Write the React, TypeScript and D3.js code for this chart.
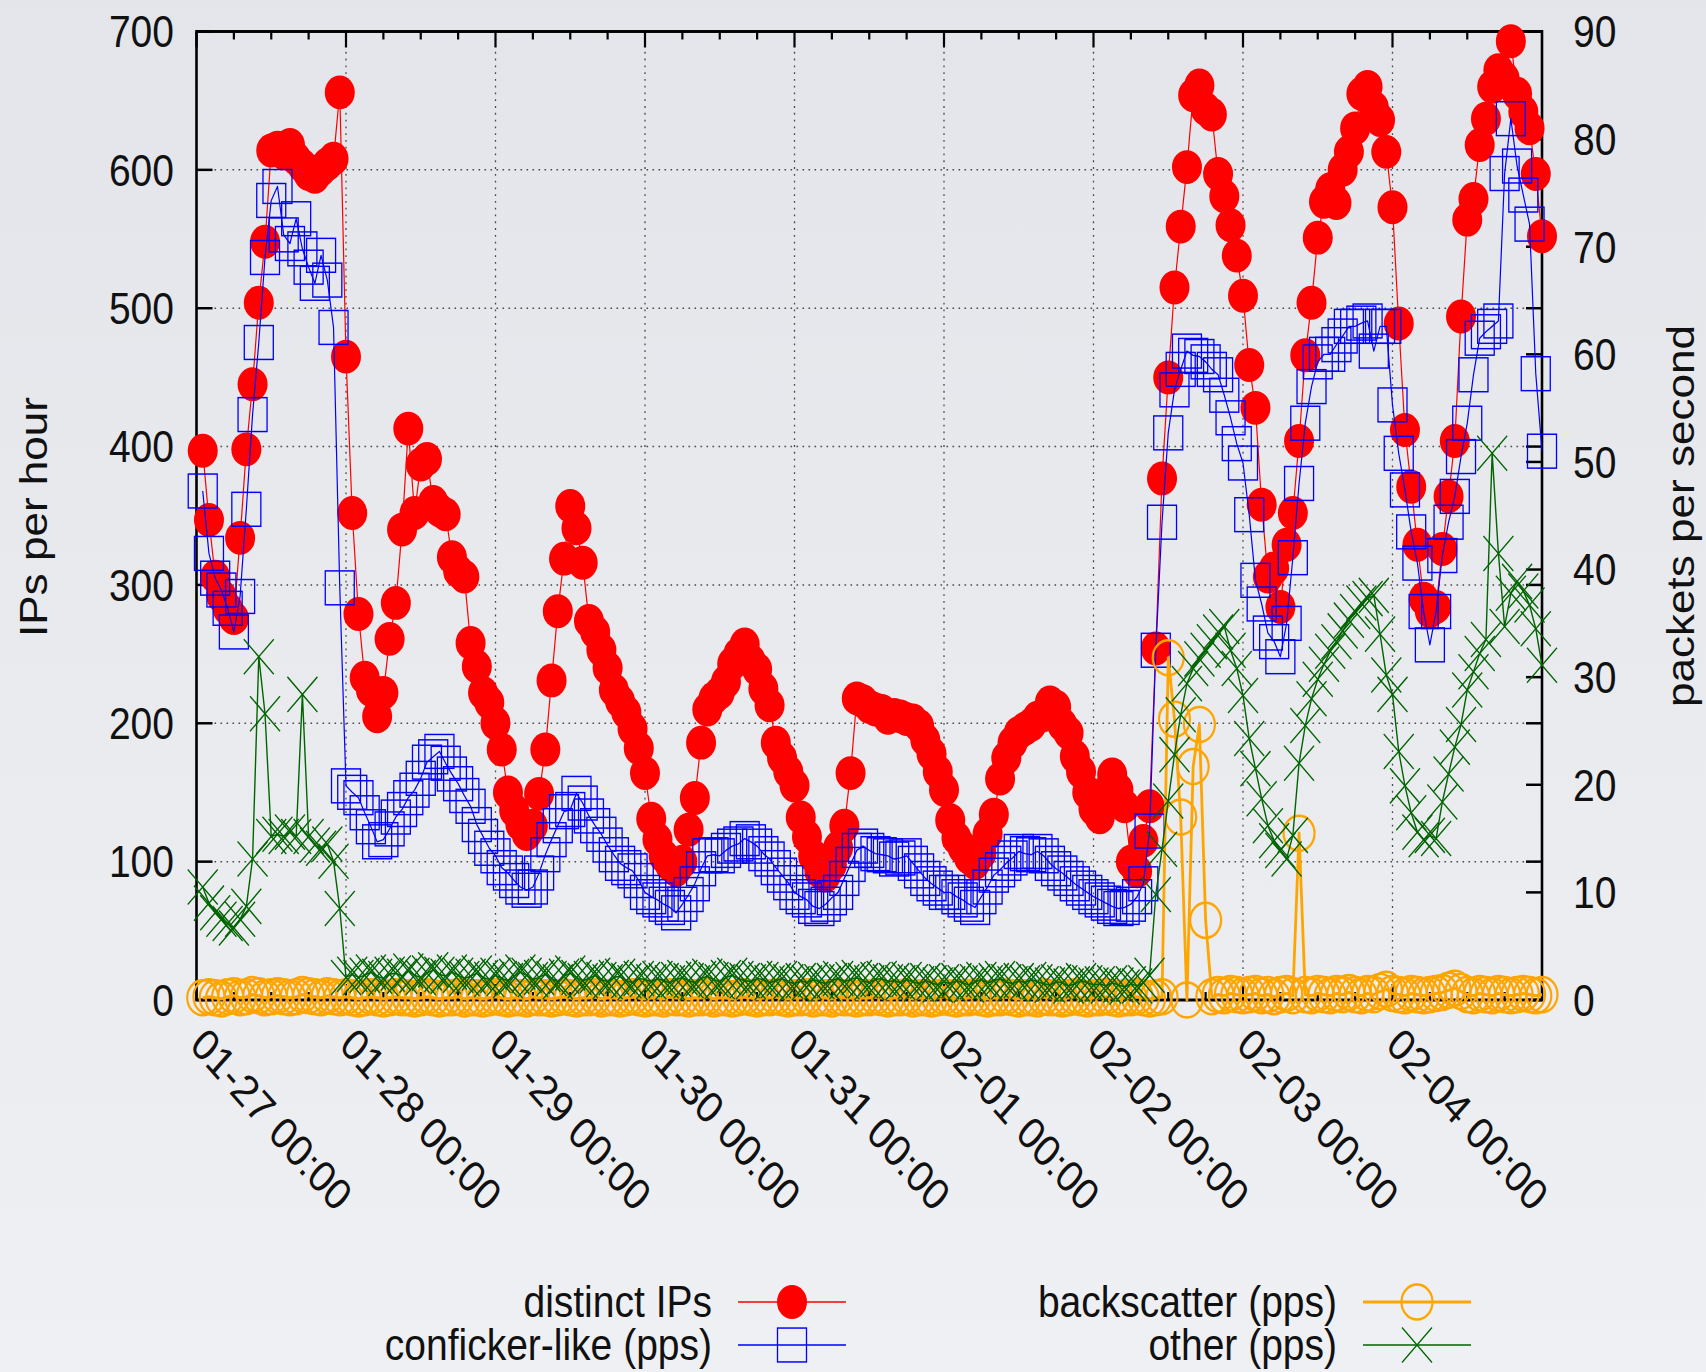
import React, { useEffect, useRef } from 'react';
import * as d3 from 'd3';

// hourly samples, 01-27 01:00 .. 02-05 00:00
const distinctIPs = [
  397, 347, 306, 292, 283, 276, 334, 398, 445, 504, 548, 614,
  616, 612, 618, 608, 603, 597, 595, 600, 604, 608, 656, 465,
  352, 279, 233, 224, 205, 222, 261, 287, 340, 413, 352, 387,
  391, 360, 354, 351, 320, 310, 306, 258, 241, 222, 215, 200,
  181, 150, 137, 127, 120, 126, 149, 181, 231, 281, 319, 357,
  341, 316, 274, 266, 253, 240, 224, 216, 208, 196, 182, 164,
  131, 116, 104, 98, 94, 100, 123, 146, 186, 210, 218, 222,
  230, 243, 250, 257, 245, 239, 225, 213, 186, 175, 165, 155,
  132, 118, 104, 93, 90, 98, 110, 126, 164, 218, 216, 212,
  210, 209, 204, 206, 205, 203, 202, 198, 188, 178, 165, 152,
  130, 117, 110, 103, 99, 106, 120, 134, 160, 175, 186, 193,
  196, 199, 204, 206, 215, 212, 199, 193, 176, 165, 150, 138,
  132, 150, 163, 152, 140, 100, 93, 115, 140, 254, 377, 450,
  515, 559, 602, 654, 661, 644, 640, 597, 581, 560, 538, 509,
  459, 428, 358, 306, 312, 284, 329, 352, 404, 466, 504, 551,
  577, 586, 576, 600, 613, 630, 655, 660, 645, 636, 613, 573,
  489, 412, 371, 329, 290, 281, 284, 326, 364, 404, 494, 564,
  579, 618, 637, 660, 672, 666, 693, 655, 642, 630, 597, 552,
];

const confickerPps = [
  47.3, 41.5, 39.2, 38.1, 36.4, 34.2, 37.5, 45.6, 54.4, 61.1, 69.0, 74.3,
  75.6, 71.1, 70.3, 72.6, 69.8, 68.1, 66.6, 69.2, 66.9, 62.5, 38.3, 19.9,
  19.3, 18.8, 17.4, 16.1, 14.7, 14.9, 15.9, 17.0, 17.7, 18.8, 19.5, 20.6,
  22.1, 22.6, 23.1, 22.0, 21.0, 20.1, 19.0, 18.0, 16.3, 15.2, 14.1, 13.4,
  12.3, 11.8, 11.1, 10.5, 10.2, 10.5, 11.8, 13.5, 14.9, 16.2, 17.5, 17.7,
  19.2, 18.3, 17.1, 16.2, 15.4, 14.4, 13.5, 12.7, 12.3, 12.0, 11.1, 10.0,
  9.6, 9.3, 8.9, 8.6, 8.1, 8.9, 9.8, 10.8, 12.2, 13.4, 13.5, 13.4,
  13.9, 14.3, 14.5, 15.0, 14.7, 14.3, 13.6, 13.1, 12.3, 11.6, 10.9, 10.0,
  9.6, 9.3, 8.7, 8.5, 8.9, 9.5, 10.0, 11.3, 12.6, 13.9, 14.3, 13.9,
  13.6, 13.5, 13.4, 13.1, 13.2, 13.4, 12.7, 12.0, 11.3, 10.8, 10.4, 10.0,
  10.0, 9.6, 9.3, 8.9, 8.6, 9.6, 10.5, 11.6, 12.1, 12.7, 13.2, 13.8,
  13.6, 13.5, 13.8, 13.4, 12.7, 12.2, 11.8, 11.3, 10.8, 10.4, 10.0, 9.6,
  9.3, 9.0, 8.7, 8.5, 8.6, 8.9, 9.6, 10.8, 15.7, 32.5, 44.4, 52.7,
  56.7, 58.6, 60.3, 59.9, 59.8, 59.3, 58.6, 58.1, 56.2, 54.1, 51.7, 49.9,
  45.1, 39.0, 36.8, 34.1, 33.3, 31.9, 35.0, 41.1, 48.0, 53.6, 57.0, 59.3,
  60.0, 60.0, 60.9, 61.7, 62.6, 62.6, 62.9, 63.1, 60.3, 62.6, 62.6, 55.3,
  50.8, 47.4, 43.5, 40.6, 36.1, 33.0, 36.1, 41.3, 44.4, 46.8, 50.5, 53.6,
  58.1, 61.5, 62.1, 62.6, 63.1, 76.8, 81.9, 77.5, 74.8, 72.1, 58.2, 51.0,
];

const backscatterPps = [
  0.2, 0.3, 0.2, 0.1, 0.3, 0.4, 0.2, 0.3, 0.5, 0.4, 0.2, 0.3,
  0.4, 0.3, 0.2, 0.3, 0.5, 0.4, 0.3, 0.2, 0.4, 0.3, 0.2, 0.3,
  0.2, 0.1, 0.2, 0.3, 0.2, 0.1, 0.2, 0.3, 0.2, 0.2, 0.1, 0.2,
  0.3, 0.2, 0.1, 0.2, 0.2, 0.3, 0.1, 0.2, 0.2, 0.1, 0.2, 0.3,
  0.2, 0.1, 0.2, 0.2, 0.1, 0.3, 0.2, 0.2, 0.1, 0.2, 0.3, 0.2,
  0.1, 0.2, 0.2, 0.3, 0.1, 0.2, 0.2, 0.1, 0.2, 0.3, 0.2, 0.1,
  0.2, 0.2, 0.1, 0.3, 0.2, 0.2, 0.1, 0.2, 0.2, 0.3, 0.1, 0.2,
  0.2, 0.1, 0.2, 0.3, 0.2, 0.1, 0.2, 0.2, 0.3, 0.2, 0.1, 0.2,
  0.2, 0.3, 0.1, 0.2, 0.2, 0.1, 0.3, 0.2, 0.2, 0.1, 0.2, 0.2,
  0.3, 0.2, 0.1, 0.2, 0.2, 0.3, 0.1, 0.2, 0.2, 0.1, 0.2, 0.3,
  0.2, 0.1, 0.2, 0.2, 0.3, 0.2, 0.1, 0.2, 0.2, 0.3, 0.2, 0.1,
  0.2, 0.2, 0.1, 0.3, 0.2, 0.2, 0.1, 0.2, 0.3, 0.2, 0.1, 0.2,
  0.2, 0.3, 0.2, 0.1, 0.2, 0.2, 0.3, 0.2, 0.1, 0.2, 0.3, 31.8,
  26.1, 17.0, 0.0, 21.7, 25.6, 7.4, 0.3, 0.5, 0.4, 0.6, 0.5, 0.4,
  0.5, 0.6, 0.4, 0.5, 0.3, 0.5, 0.6, 0.4, 15.5, 0.5, 0.4, 0.6,
  0.5, 0.4, 0.6, 0.5, 0.7, 0.5, 0.4, 0.6, 0.5, 0.8, 1.0, 0.6,
  0.5, 0.4, 0.6, 0.5, 0.4, 0.5, 0.6, 0.7, 0.9, 1.1, 0.8, 0.5,
  0.4, 0.6, 0.5, 0.4, 0.6, 0.5, 0.4, 0.5, 0.6, 0.5, 0.4, 0.5,
];

const otherPps = [
  10.5, 9.0, 8.1, 7.5, 7.1, 6.7, 7.5, 8.7, 13.1, 31.9, 26.6, 15.2,
  15.4, 15.2, 15.6, 15.2, 28.4, 15.2, 14.4, 14.1, 14.5, 12.9, 8.5, 2.1,
  2.4, 2.1, 2.3, 2.6, 2.2, 2.0, 2.4, 2.5, 2.2, 2.7, 2.3, 2.1,
  2.5, 2.8, 2.4, 2.2, 2.6, 2.3, 2.0, 2.2, 2.5, 2.1, 1.9, 2.3,
  2.0, 1.8, 2.2, 2.6, 2.3, 1.9, 2.1, 2.4, 2.0, 1.7, 2.2, 2.5,
  2.1, 1.8, 2.0, 2.3, 1.9, 1.7, 2.1, 2.2, 1.8, 1.6, 2.0, 1.9,
  1.7, 2.0, 1.8, 1.6, 1.9, 2.1, 1.8, 1.6, 2.0, 2.2, 1.9, 1.7,
  2.1, 2.3, 2.0, 1.8, 1.7, 2.0, 1.9, 1.6, 1.8, 2.0, 1.7, 1.5,
  1.8, 1.6, 1.9, 1.7, 1.5, 1.8, 2.0, 1.7, 1.9, 2.1, 1.8, 1.6,
  1.9, 2.0, 1.7, 1.8, 1.6, 1.9, 1.7, 1.5, 1.8, 1.6, 1.4, 1.7,
  1.5, 1.8, 1.6, 1.4, 1.7, 1.9, 1.6, 1.8, 2.0, 1.7, 1.5, 1.8,
  1.6, 1.9, 1.7, 1.5, 1.4, 1.7, 1.6, 1.3, 1.5, 1.8, 1.6, 1.4,
  1.5, 1.3, 1.6, 1.4, 1.2, 1.5, 1.3, 1.6, 2.3, 9.8, 14.0, 18.5,
  22.8, 26.5, 29.4, 30.8, 31.7, 32.5, 33.3, 34.2, 34.7, 32.5, 30.8, 28.3,
  24.3, 21.5, 18.7, 16.2, 14.8, 13.9, 13.1, 15.3, 22.0, 25.5, 28.0, 29.8,
  31.2, 32.4, 33.3, 34.3, 35.3, 36.1, 36.9, 37.3, 37.6, 34.0, 30.2, 28.4,
  23.1, 19.9, 17.4, 15.6, 14.9, 15.3, 15.0, 18.4, 21.0, 23.5, 25.6, 28.8,
  30.5, 32.2, 33.5, 50.8, 41.5, 34.7, 37.8, 38.9, 38.0, 36.7, 34.5, 31.1,
];

const seriesNames = ['distinct IPs', 'conficker-like (pps)', 'backscatter (pps)', 'other (pps)'];
const leftTicks = [0, 100, 200, 300, 400, 500, 600, 700];
const rightTicks = [0, 10, 20, 30, 40, 50, 60, 70, 80, 90];
const startTime = new Date(Date.UTC(2009, 0, 27, 0));
const endTime = new Date(Date.UTC(2009, 1, 5, 0));

const W = 1706;
const H = 1372;
const K = 1.13; // the original picture is stretched vertically
const VH = H / K;
const FONT = '"Liberation Sans", Arial, Helvetica, sans-serif';

const App = () => {
  const ref = useRef<SVGSVGElement>(null);

  useEffect(() => {
    const svg = d3.select(ref.current);
    svg.selectAll('*').remove();

    const m = { left: 196.5, right: 1542, top: 31.5 / K, bottom: 1000 / K };

    // background
    const grad = svg.append('defs').append('linearGradient')
      .attr('id', 'bg').attr('x1', 0).attr('y1', 0).attr('x2', 0).attr('y2', 1);
    grad.append('stop').attr('offset', '0%').attr('stop-color', '#e3e5ea');
    grad.append('stop').attr('offset', '100%').attr('stop-color', '#eff0f3');
    svg.append('rect').attr('width', W).attr('height', VH).attr('fill', 'url(#bg)');

    const times = distinctIPs.map((_, i) => d3.utcHour.offset(startTime, i + 1));
    const x = d3.scaleUtc().domain([startTime, endTime]).range([m.left, m.right]);
    const yL = d3.scaleLinear().domain([0, 700]).range([m.bottom, m.top]);
    const yR = d3.scaleLinear().domain([0, 90]).range([m.bottom, m.top]);

    const days = d3.utcDay.range(startTime, endTime);
    const minor = d3.utcHour.every(6)!.range(startTime, endTime).filter(d => d.getUTCHours() !== 0);
    const fmt = d3.utcFormat('%m-%d %H:%M');

    // grid
    const grid = svg.append('g')
      .attr('stroke', '#4a4a4a').attr('stroke-width', 1.3).attr('stroke-dasharray', '1.6,4.4');
    grid.selectAll('line.h')
      .data(leftTicks.filter(v => v > 0 && v < 700))
      .enter().append('line').attr('class', 'h')
      .attr('x1', m.left).attr('x2', m.right)
      .attr('y1', d => yL(d)).attr('y2', d => yL(d));
    grid.selectAll('line.v')
      .data(days.slice(1))
      .enter().append('line').attr('class', 'v')
      .attr('x1', d => x(d)).attr('x2', d => x(d))
      .attr('y1', m.top).attr('y2', m.bottom);

    // ticks (inward, gnuplot style)
    const ticks = svg.append('g').attr('stroke', '#000').attr('stroke-width', 2.2);
    const major = 16;
    leftTicks.forEach(v => {
      ticks.append('line').attr('x1', m.left).attr('x2', m.left + major).attr('y1', yL(v)).attr('y2', yL(v));
      ticks.append('line').attr('x1', m.right).attr('x2', m.right - major).attr('y1', yL(v)).attr('y2', yL(v));
    });
    rightTicks.forEach(v => {
      ticks.append('line').attr('x1', m.right).attr('x2', m.right - major).attr('y1', yR(v)).attr('y2', yR(v));
    });
    days.forEach(d => {
      ticks.append('line').attr('x1', x(d)).attr('x2', x(d)).attr('y1', m.bottom).attr('y2', m.bottom - major / K);
      ticks.append('line').attr('x1', x(d)).attr('x2', x(d)).attr('y1', m.top).attr('y2', m.top + major / K);
    });
    minor.forEach(d => {
      ticks.append('line').attr('x1', x(d)).attr('x2', x(d)).attr('y1', m.bottom).attr('y2', m.bottom - 8 / K);
      ticks.append('line').attr('x1', x(d)).attr('x2', x(d)).attr('y1', m.top).attr('y2', m.top + 8 / K);
    });

    // border
    svg.append('rect')
      .attr('x', m.left).attr('y', m.top)
      .attr('width', m.right - m.left).attr('height', m.bottom - m.top)
      .attr('fill', 'none').attr('stroke', '#000').attr('stroke-width', 2.6);

    // tick labels
    const labels = svg.append('g').attr('font-family', FONT).attr('font-size', 39).attr('fill', '#111');
    labels.selectAll('text.l').data(leftTicks).enter().append('text').attr('class', 'l')
      .attr('x', 174).attr('y', d => yL(d) + 14).attr('text-anchor', 'end').text(d => d);
    labels.selectAll('text.r').data(rightTicks).enter().append('text').attr('class', 'r')
      .attr('x', 1573).attr('y', d => yR(d) + 14).attr('text-anchor', 'start').text(d => d);
    labels.selectAll('text.x').data(days).enter().append('text').attr('class', 'x')
      .attr('transform', d => `translate(${x(d) - 8},${926.5}) rotate(45)`)
      .attr('text-anchor', 'start').text(d => fmt(d));

    labels.append('text')
      .attr('transform', `translate(47,${517 / K}) rotate(-90)`)
      .attr('text-anchor', 'middle').text('IPs per hour');
    labels.append('text')
      .attr('transform', `translate(1694,${516 / K}) rotate(-90)`)
      .attr('text-anchor', 'middle').text('packets per second');

    // markers
    const kinds = ['dot', 'box', 'ring', 'cross'];
    const colors = ['#ff0000', '#0000ff', '#ffa500', '#006400'];
    const lineWidths = [1.2, 1.2, 2.8, 1.4];

    const marker = (g: any, kind: string, color: string, cx: number, cy: number) => {
      if (kind === 'dot') {
        g.append('circle').attr('cx', cx).attr('cy', cy).attr('r', 15).attr('fill', color);
      } else if (kind === 'box') {
        g.append('rect').attr('x', cx - 14.5).attr('y', cy - 15).attr('width', 29).attr('height', 30)
          .attr('fill', 'none').attr('stroke', color).attr('stroke-width', 1.3);
      } else if (kind === 'ring') {
        g.append('circle').attr('cx', cx).attr('cy', cy).attr('r', 15.5)
          .attr('fill', 'none').attr('stroke', color).attr('stroke-width', 2.2);
      } else {
        g.append('path')
          .attr('d', `M${cx - 15},${cy - 15.5}L${cx + 15},${cy + 15.5}M${cx + 15},${cy - 15.5}L${cx - 15},${cy + 15.5}`)
          .attr('fill', 'none').attr('stroke', color).attr('stroke-width', 1.3);
      }
    };

    const allSeries = [
      { values: distinctIPs, y: yL },
      { values: confickerPps, y: yR },
      { values: backscatterPps, y: yR },
      { values: otherPps, y: yR },
    ];

    allSeries.forEach((s, k) => {
      const g = svg.append('g');
      const line = d3.line<number>()
        .x((_, i) => x(times[i]))
        .y(v => s.y(v));
      g.append('path').attr('d', line(s.values))
        .attr('fill', 'none').attr('stroke', colors[k]).attr('stroke-width', lineWidths[k])
        .attr('stroke-linejoin', 'round');
      s.values.forEach((v, i) => marker(g, kinds[k], colors[k], x(times[i]), s.y(v)));
    });

    // legend
    const legend = svg.append('g').attr('font-family', FONT).attr('font-size', 39).attr('fill', '#111');
    const colText = [712, 1337];
    const rowY = [1302 / K, 1345 / K];
    seriesNames.forEach((name, k) => {
      const col = Math.floor(k / 2);
      const row = k % 2;
      const tx = colText[col];
      const y = rowY[row];
      legend.append('text').attr('x', tx).attr('y', y + 13.5).attr('text-anchor', 'end').text(name);
      legend.append('line')
        .attr('x1', tx + 26).attr('x2', tx + 134).attr('y1', y).attr('y2', y)
        .attr('stroke', colors[k]).attr('stroke-width', lineWidths[k]);
      marker(legend, kinds[k], colors[k], tx + 80, y);
    });
  }, []);

  return (
    <svg
      ref={ref}
      width={W}
      height={H}
      viewBox={`0 0 ${W} ${VH}`}
      preserveAspectRatio="none"
      style={{ position: 'absolute', left: 0, top: 0, display: 'block' }}
    />
  );
};

export default App;
